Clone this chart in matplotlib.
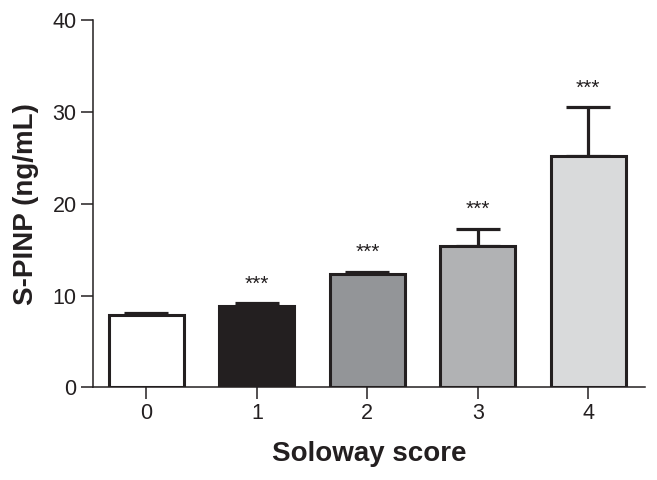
import numpy as np
import matplotlib.pyplot as plt

plt.rcParams['font.family'] = ['Liberation Sans', 'DejaVu Sans']

scores = ['0', '1', '2', '3', '4']
means = [7.9, 8.85, 12.3, 15.4, 25.2]
sem = [0.25, 0.3, 0.3, 1.85, 5.3]
signif = ['', '***', '***', '***', '***']
colors = ['#ffffff', '#231f20', '#939598', '#b1b2b4', '#d9dadb']

ink = '#231f20'

fig = plt.figure(figsize=(6.57, 4.8), dpi=100)
ax = fig.add_axes([0.141, 0.193, 0.841, 0.765])

x = np.arange(len(scores))

# upper error bars only
ax.errorbar(x, means, yerr=[np.zeros(len(sem)), sem], fmt='none',
            ecolor=ink, elinewidth=2.3, capsize=16, capthick=2.3, zorder=2)
ax.bar(x, means, width=0.68, color=colors, edgecolor=ink, linewidth=2.2, zorder=3)

for xi, m, e, s in zip(x, means, sem, signif):
    if s:
        ax.annotate(s, xy=(xi, m + e), xytext=(0, 7), textcoords='offset points',
                    ha='center', va='bottom', fontsize=15, color=ink)

ax.set_xlim(-0.487, 4.515)
ax.set_ylim(0, 40)
ax.set_yticks([0, 10, 20, 30, 40])
ax.set_xticks(x)
ax.set_xticklabels(scores)

for side in ['top', 'right']:
    ax.spines[side].set_visible(False)
for side in ['left', 'bottom']:
    ax.spines[side].set_linewidth(1.1)
    ax.spines[side].set_color(ink)

ax.tick_params(axis='both', direction='out', length=8.5, width=1.1, color=ink,
               labelsize=15.5, labelcolor=ink, pad=3)

ax.set_xlabel('Soloway score', fontsize=20, fontweight='bold', color=ink, labelpad=12)
ax.set_ylabel('S-PINP (ng/mL)', fontsize=20, fontweight='bold', color=ink, labelpad=10)

fig.savefig('out.png', dpi=100)
